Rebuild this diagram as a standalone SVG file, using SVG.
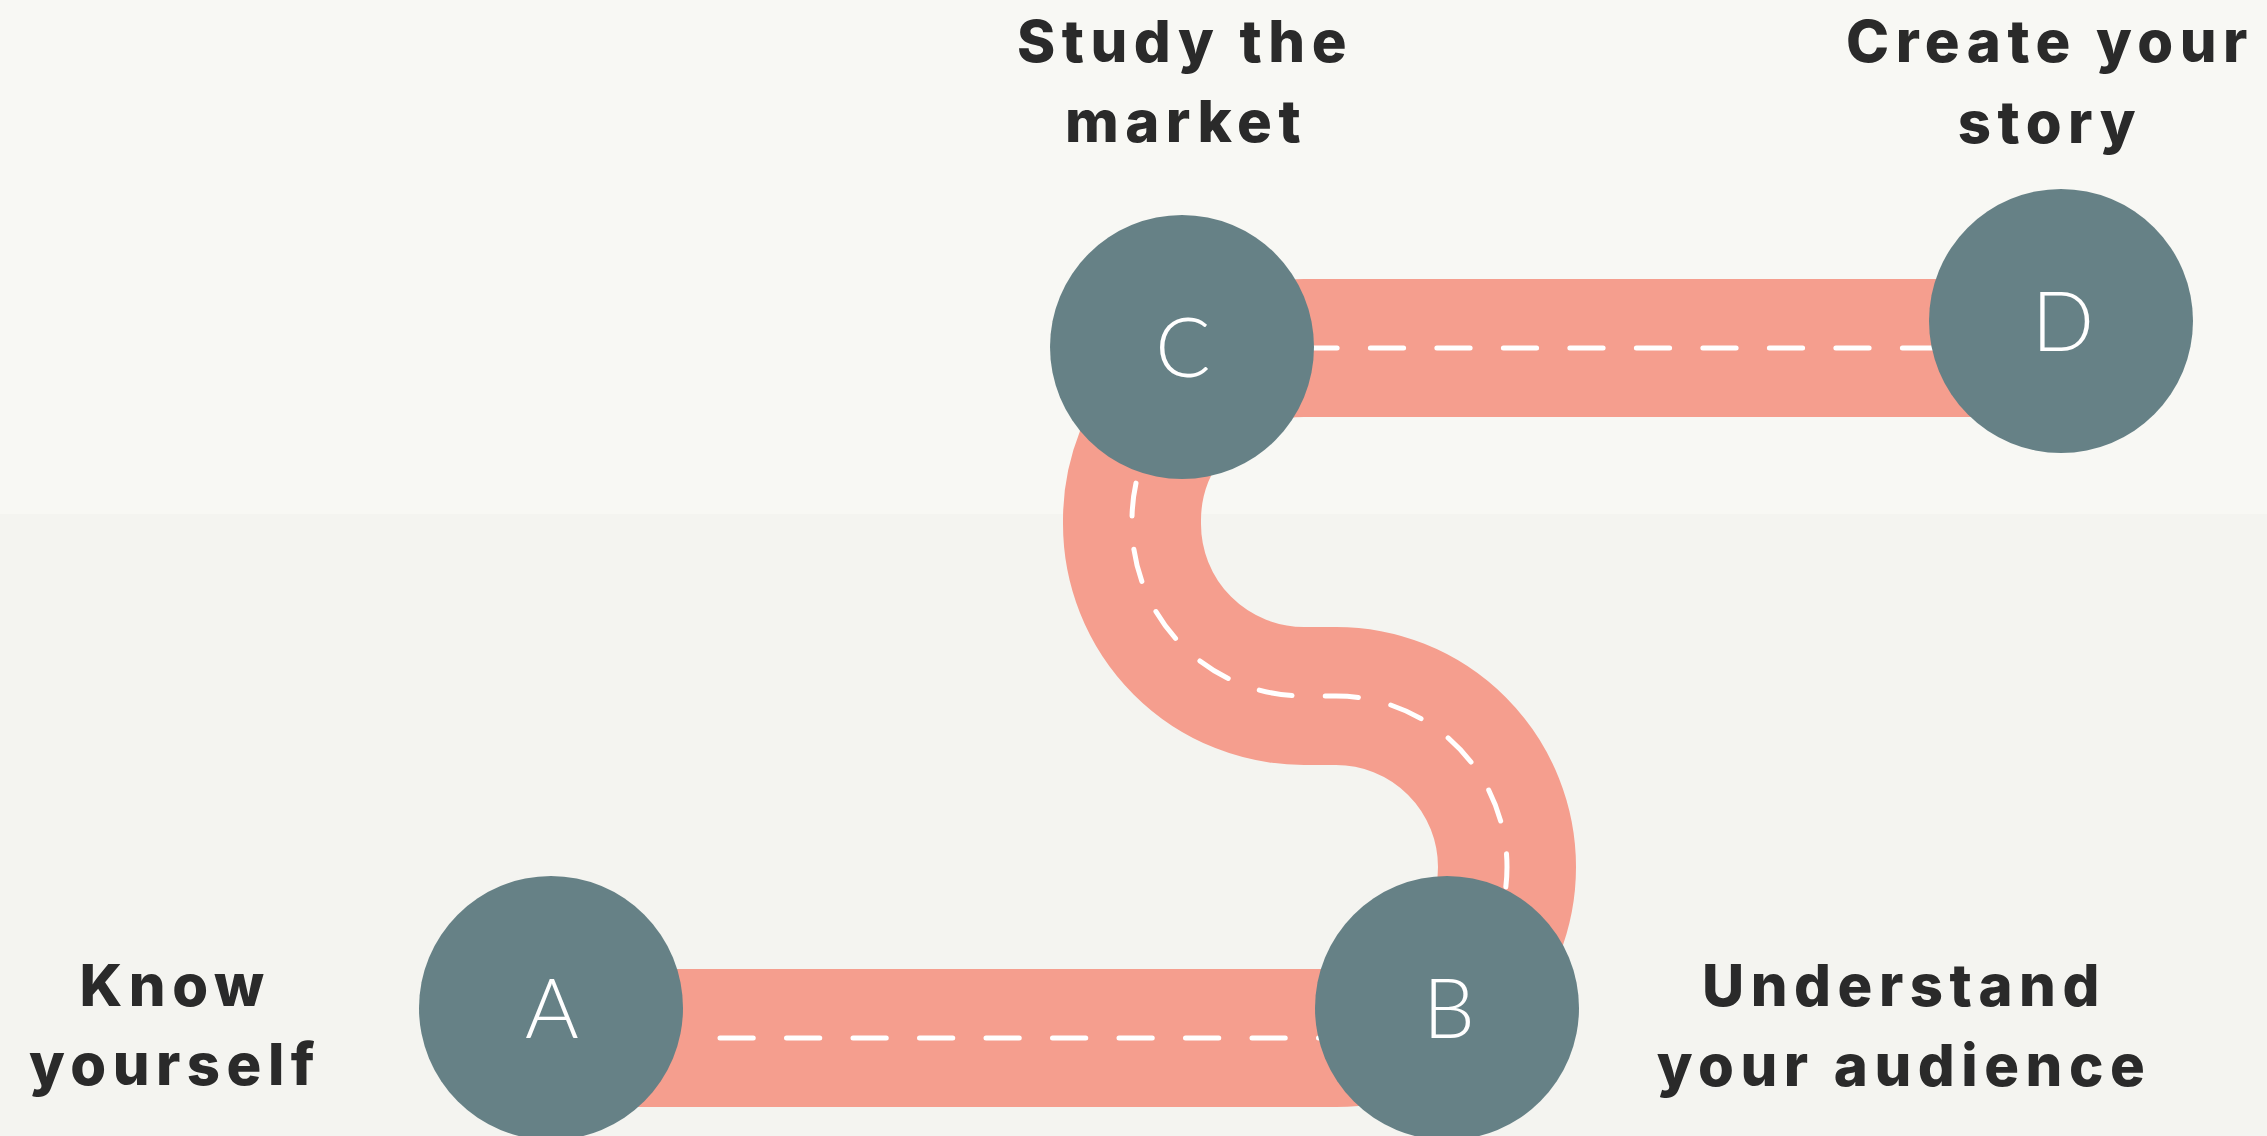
<svg xmlns="http://www.w3.org/2000/svg" width="2267" height="1136" viewBox="0 0 2267 1136">
  <style>
    .road { fill: none; stroke: #F59E8E; stroke-width: 138; stroke-linecap: butt; stroke-linejoin: round; }
    .lane { fill: none; stroke: #FFFFFF; stroke-width: 5; stroke-linecap: round; stroke-dasharray: 33.25 33.25; }
    .node { fill: #668186; }
    .letter { font-family: Lato, "Open Sans", "Liberation Sans", sans-serif; font-weight: 300; font-size: 82px; fill: #FFFFFF; text-anchor: middle; }
    .label { font-family: Inter, "Liberation Sans", sans-serif; font-weight: 800; font-size: 58px; letter-spacing: 6.5px; fill: #2A2A2A; text-anchor: middle; }
  </style>
  <rect x="0" y="0" width="2267" height="1136" fill="#F4F4F0"/>
  <rect x="0" y="0" width="2267" height="514" fill="#F8F8F4"/>

  <g id="connectors">
    <path class="road" d="M 551 1038 H 1336 A 171 171 0 0 0 1336 696 H 1304 A 172 172 0 0 1 1132 524 V 520 A 172 172 0 0 1 1304 348 H 2061"/>
    <path class="lane" d="M 720 1038 H 1336 A 171 171 0 0 0 1336 696 H 1304 A 172 172 0 0 1 1132 524 V 520 A 172 172 0 0 1 1304 348 H 2061"/>
  </g>

  <g id="node-a">
    <circle class="node" cx="551" cy="1008" r="132"/>
    <text class="letter" x="552" y="1038">A</text>
    <text class="label" x="175" y="1006">Know</text>
    <text class="label" x="175" y="1085">yourself</text>
  </g>
  <g id="node-b">
    <circle class="node" cx="1447" cy="1008" r="132"/>
    <text class="letter" x="1449" y="1038">B</text>
    <text class="label" x="1904" y="1006">Understand</text>
    <text class="label" x="1904" y="1086">your audience</text>
  </g>
  <g id="node-c">
    <circle class="node" cx="1182" cy="347" r="132"/>
    <text class="letter" x="1183" y="377">C</text>
    <text class="label" x="1185" y="62">Study the</text>
    <text class="label" x="1186" y="142">market</text>
  </g>
  <g id="node-d">
    <circle class="node" cx="2061" cy="321" r="132"/>
    <text class="letter" x="2063" y="351">D</text>
    <text class="label" x="2050" y="62">Create your</text>
    <text class="label" x="2050" y="143">story</text>
  </g>
</svg>
